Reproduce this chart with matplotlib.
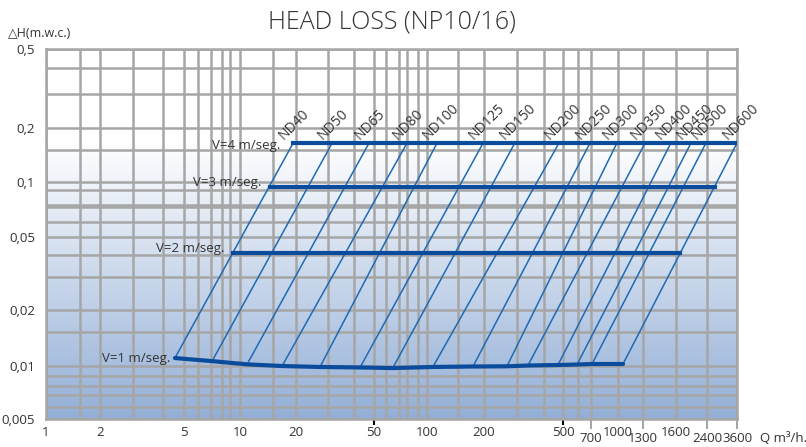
import numpy as np
import matplotlib.pyplot as plt
from matplotlib.colors import LinearSegmentedColormap
from matplotlib.ticker import FixedLocator, FixedFormatter, NullLocator

plt.rcParams['font.family'] = ['Open Sans', 'DejaVu Sans']

# --- DATA ---
ND_LABELS = ['ND40', 'ND50', 'ND65', 'ND80', 'ND100', 'ND125', 'ND150', 'ND200',
             'ND250', 'ND300', 'ND350', 'ND400', 'ND450', 'ND500', 'ND600']
# flow Q (m3/h) where each ND line meets V=4 m/s (top) and V=1 m/s (bottom)
Q_V4 = [19.3, 31.4, 47.3, 80, 114, 198, 292, 477, 692, 986, 1317, 1549, 1946, 2368, 3600]
Q_V1 = [4.54, 7.09, 10.9, 16.8, 27.1, 42.8, 65.0, 108, 177, 265, 337, 471, 593, 709, 1054]
# head loss (m.w.c.) along the V=1 curve at each of those points
H_V1 = [0.0110, 0.0106, 0.0102, 0.0100, 0.0099, 0.00985, 0.00979, 0.0099,
        0.00995, 0.00997, 0.01006, 0.01012, 0.01018, 0.01024, 0.01024]

H_V4 = 0.1644
H_V3 = 0.0936
H_V2 = 0.0410
Q_V3 = [14.5, 2675]
Q_V2 = [9.29, 1687]

X_ROW1 = [1, 2, 5, 10, 20, 50, 100, 200, 500, 1000, 1600]
X_ROW2 = [700, 1300, 2400, 3600]
Y_TICKS = [0.005, 0.01, 0.02, 0.05, 0.1, 0.2, 0.5]
Y_TICKLABELS = ['0,005', '0,01', '0,02', '0,05', '0,1', '0,2', '0,5']

# --- printed grid of the chart (it is not an exact log grid) ---
X_GRID = [1, 1.5, 2, 3, 4, 5, 6, 7, 8, 9, 10, 15, 20, 30, 40, 50, 60, 70, 80, 90,
          100, 150, 200, 300, 400, 500, 600, 700, 1000, 1300, 1600, 2400, 3600]
X_GRID_POS = [0, 34, 54, 87, 117, 138, 152, 165, 176, 184, 194, 227, 250, 282, 308,
              328, 340, 353, 361, 372, 381, 412, 438, 471, 498, 517, 532, 545, 572,
              597, 630, 661, 691]
Y_KNOTS = [0.005, 0.006, 0.007, 0.008, 0.009, 0.01, 0.015, 0.02, 0.03, 0.04, 0.05,
           0.06, 0.09, 0.1, 0.15, 0.2, 0.3, 0.4, 0.5]
Y_KNOTS_POS = [0, 12, 24, 33, 43, 53, 87, 109, 142, 164, 182, 197, 229, 237, 269,
               291, 325, 351, 370]
Y_GRID = Y_KNOTS + [0.0726, 0.0744]

GRID_C = '#a6a6a6'
THICK_C = '#0b4b9b'
THIN_C = '#1f6ab4'
TEXT_C = '#333333'


def chart_scale(values, positions):
    lv = np.log10(values)
    pos = np.asarray(positions, dtype=float)

    def fwd(v):
        v = np.clip(np.asarray(v, dtype=float), 1e-9, None)
        return np.interp(np.log10(v), lv, pos)

    def inv(p):
        return 10 ** np.interp(np.asarray(p, dtype=float), pos, lv)
    return fwd, inv


fig = plt.figure(figsize=(8.06, 4.47), dpi=100)
ax = fig.add_axes([0.0571, 0.0626, 0.8573, 0.8277])
ax.set_xscale('function', functions=chart_scale(X_GRID, X_GRID_POS))
ax.set_yscale('function', functions=chart_scale(Y_KNOTS, Y_KNOTS_POS))
ax.set_xlim(1, 3600)
ax.set_ylim(0.005, 0.5)

# background: white at the top fading to blue at the bottom
cmap = LinearSegmentedColormap.from_list('bg', [(0, '#93afd7'), (0.75, '#ffffff'), (1, '#ffffff')])
grad = np.linspace(1, 0, 256).reshape(-1, 1)
ax.imshow(grad, cmap=cmap, extent=[0, 1, 0, 1], transform=ax.transAxes,
          aspect='auto', zorder=0, vmin=0, vmax=1)

for xv in X_GRID:
    ax.axvline(xv, color=GRID_C, lw=1.8, zorder=1)
for yv in Y_GRID:
    ax.axhline(yv, color=GRID_C, lw=1.8, zorder=1)
for sp in ax.spines.values():
    sp.set_color(GRID_C)
    sp.set_linewidth(1.8)

# ND diagonals
for q4, q1, h1 in zip(Q_V4, Q_V1, H_V1):
    ax.plot([q1, q4], [h1, H_V4], color=THIN_C, lw=1.1, zorder=3)

# constant velocity lines
ax.plot([Q_V4[0], Q_V4[-1]], [H_V4, H_V4], color=THICK_C, lw=3, zorder=4)
ax.plot(Q_V3, [H_V3, H_V3], color=THICK_C, lw=3, zorder=4)
ax.plot(Q_V2, [H_V2, H_V2], color=THICK_C, lw=3, zorder=4)
ax.plot(Q_V1, H_V1, color=THICK_C, lw=3, zorder=4, solid_capstyle='round')

v_labels = [('V=4 m/seg.', Q_V4[0], H_V4, -9.5, -1.5),
            ('V=3 m/seg.', Q_V3[0], H_V3, -6.5, 3.5),
            ('V=2 m/seg.', Q_V2[0], H_V2, -6, 3.5),
            ('V=1 m/seg.', Q_V1[0], H_V1[0], -3, -0.5)]
for txt, q, h, dx, dy in v_labels:
    ax.annotate(txt, (q, h), xytext=(dx, dy), textcoords='offset points',
                ha='right', va='center', fontsize=9.5, color=TEXT_C, zorder=5)

for name, q in zip(ND_LABELS, Q_V4):
    ax.annotate(name, (q, H_V4), xytext=(-5, 0), textcoords='offset points',
                ha='left', va='bottom', rotation=45, rotation_mode='anchor',
                fontsize=10, color=TEXT_C, zorder=5)

# ticks
ax.xaxis.set_major_locator(FixedLocator(X_ROW1))
ax.xaxis.set_major_formatter(FixedFormatter([str(v) for v in X_ROW1]))
ax.xaxis.set_minor_locator(FixedLocator(X_ROW2))
ax.xaxis.set_minor_formatter(FixedFormatter([str(v) for v in X_ROW2]))
ax.tick_params(axis='x', which='major', length=0, pad=5, labelsize=9.5, labelcolor=TEXT_C)
ax.tick_params(axis='x', which='minor', length=7, width=1.5, color=GRID_C, pad=2.5,
               labelsize=9.5, labelcolor=TEXT_C)
for t, v in zip(ax.xaxis.get_major_ticks(len(X_ROW1)), X_ROW1):
    if v in (50, 500):
        t.tick1line.set_markersize(4)
        t.tick1line.set_markeredgewidth(1.5)
        t.tick1line.set_color(GRID_C)

ax.yaxis.set_major_locator(FixedLocator(Y_TICKS))
ax.yaxis.set_major_formatter(FixedFormatter(Y_TICKLABELS))
ax.yaxis.set_minor_locator(NullLocator())
ax.tick_params(axis='y', length=0, pad=8, labelsize=9.5, labelcolor=TEXT_C)

fig.text(0.486, 0.951, 'HEAD LOSS (NP10/16)', ha='center', va='center',
         fontsize=18, color=TEXT_C, fontweight='light')
fig.text(0.01, 0.926, '\u25b3H(m.w.c.)', ha='left', va='center', fontsize=9, color=TEXT_C)
fig.text(0.943, 0.018, 'Q m\u00b3/h.', ha='left', va='center', fontsize=9.5, color=TEXT_C)

fig.savefig('out.png', dpi=100)
